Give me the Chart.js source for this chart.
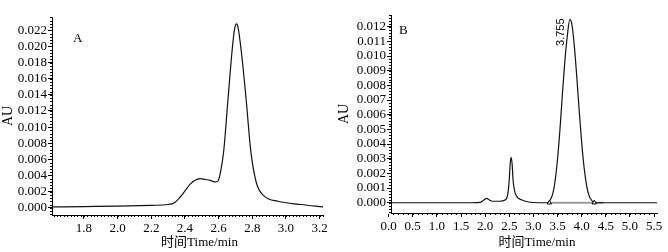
<!DOCTYPE html>
<html><head><meta charset="utf-8">
<script src="https://cdn.jsdelivr.net/npm/chart.js@4/dist/chart.umd.min.js"></script>
<style>
body{margin:0;background:#fff;width:668px;height:252px;overflow:hidden;position:relative}
canvas{position:absolute;top:0}
#cA{left:0}#cB{left:334px}
</style></head>
<body>
<canvas id="cA" width="334" height="252"></canvas>
<canvas id="cB" width="334" height="252"></canvas>
<script>
// ---- Panel A data ----
const timeA=[1.61,1.80,2.00,2.20,2.30,2.335,2.37,2.40,2.43,2.46,2.49,2.52,2.55,2.575,2.595,2.61,2.63,2.655,2.68,2.695,2.706,2.715,2.734,2.764,2.79,2.824,2.873,2.953,3.09,3.22];
const auA=[0.0001,0.00015,0.0002,0.0003,0.0004,0.0006,0.0013,0.0021,0.0029,0.0034,0.0036,0.0035,0.0034,0.0032,0.0033,0.0043,0.0070,0.0133,0.0195,0.0222,0.0228,0.0224,0.0195,0.0133,0.0072,0.0031,0.0014,0.0008,0.0004,0.0001];
const xTicksA=[1.8,2.0,2.2,2.4,2.6,2.8,3.0,3.2];
const yTicksA=[0,0.002,0.004,0.006,0.008,0.010,0.012,0.014,0.016,0.018,0.020,0.022];
const xRangeA=[1.61,3.22];
const yRangeA=[-0.0009,0.02365];

// ---- Panel B data ----
const timeB=[0.05,1.60,1.90,1.98,2.03,2.08,2.15,2.30,2.42,2.47,2.50,2.52,2.54,2.56,2.58,2.61,2.66,2.75,2.90,3.10,3.30,3.35,3.40,3.45,3.50,3.55,3.60,3.65,3.70,3.755,3.80,3.85,3.90,3.95,4.00,4.05,4.10,4.15,4.20,4.26,4.50,5.56];
const auB=[0,0,0.00003,0.0002,0.0003,0.0002,0.0001,0.0001,0.0002,0.0006,0.0016,0.0027,0.0031,0.0026,0.0015,0.0008,0.0004,0.0002,0.00005,0,0,0.0002,0.0006,0.0015,0.0030,0.0050,0.0074,0.0096,0.0113,0.0125,0.0121,0.0106,0.0085,0.0062,0.0041,0.0024,0.0012,0.0005,0.0002,0,0,0];
const xTicksB=[0,0.5,1.0,1.5,2.0,2.5,3.0,3.5,4.0,4.5,5.0,5.5];
const yTicksB=[0,0.001,0.002,0.003,0.004,0.005,0.006,0.007,0.008,0.009,0.010,0.011,0.012];
const xRangeB=[0.05,5.56];
const yRangeB=[-0.0007,0.0128];
const peakTimeB=3.755, peakAuB=0.0125, peakLabelB='3.755';
const integMarksB=[3.33,4.26];
const baselineB=[3.33,4.45];

const xTitle='时间Time/min';
const yTitle='AU';

const SERIF="'Liberation Serif','Noto Sans CJK SC',serif";

const decor={
  id:'decor',
  afterDraw(chart,args,o){
    const ctx=chart.ctx, xs=chart.scales.x, ys=chart.scales.y, ca=chart.chartArea;
    ctx.save();
    ctx.strokeStyle='#000';ctx.lineWidth=1;ctx.beginPath();
    for(let i=Math.ceil(xs.min/o.xMinor-1e-6);i<=Math.floor(xs.max/o.xMinor+1e-6);i++){
      const p=Math.round(xs.getPixelForValue(i*o.xMinor))+0.5;
      ctx.moveTo(p,ca.bottom);ctx.lineTo(p,ca.bottom+2);
    }
    for(let i=Math.ceil(ys.min/o.yMinor-1e-6);i<=Math.floor(ys.max/o.yMinor+1e-6);i++){
      const p=Math.round(ys.getPixelForValue(i*o.yMinor))+0.5;
      ctx.moveTo(ca.left-2,p);ctx.lineTo(ca.left,p);
    }
    ctx.stroke();
    ctx.fillStyle='#000';
    ctx.font='13px '+SERIF;ctx.textAlign='left';ctx.textBaseline='middle';
    ctx.fillText(o.panel,ca.left+o.panelDx,ca.top+o.panelDy);
    // x axis title
    ctx.textAlign='center';ctx.textBaseline='middle';
    ctx.fillText(o.xTitle,(ca.left+ca.right)/2+o.xTitleDx,o.xTitleY);
    if(o.peak){
      const px=xs.getPixelForValue(o.peak.t), py=ys.getPixelForValue(o.peak.v);
      ctx.translate(px-3,py-1);ctx.rotate(-Math.PI/2);
      ctx.font="11px 'Liberation Sans',sans-serif";ctx.textAlign='right';ctx.textBaseline='bottom';
      ctx.fillText(o.peak.label,0,0);
    }
    ctx.restore();
  }
};

function makeChart(id,time,au,xr,yr,xt,yt,extra,opts){
  const datasets=[...extra,{
    data:time.map((t,i)=>({x:t,y:au[i]})),
    borderColor:'#111',borderWidth:1.2,pointRadius:0,showLine:true,
    cubicInterpolationMode:'monotone',order:1
  }];
  return new Chart(document.getElementById(id),{
    type:'scatter',
    data:{datasets},
    plugins:[decor],
    options:{
      responsive:false,animation:false,
      layout:{padding:{left:0,top:opts.top,right:opts.right,bottom:0}},
      plugins:{legend:{display:false},tooltip:{enabled:false},decor:opts.decor},
      scales:{
        x:{type:'linear',min:xr[0],max:xr[1],
          afterBuildTicks:s=>{s.ticks=xt.map(v=>({value:v}));},
          afterFit:s=>{s.height=opts.xH;},
          grid:{drawOnChartArea:false,drawTicks:true,tickLength:4,tickColor:'#000'},
          border:{color:'#000',width:1},
          ticks:{color:'#000',padding:2,maxRotation:0,autoSkip:false,font:{family:SERIF,size:13},callback:v=>v.toFixed(1)},
          title:{display:false}
        },
        y:{type:'linear',min:yr[0],max:yr[1],
          afterBuildTicks:s=>{s.ticks=yt.map(v=>({value:v}));},
          afterFit:s=>{s.width=opts.yW;},
          grid:{drawOnChartArea:false,drawTicks:true,tickLength:4,tickColor:'#000'},
          border:{color:'#000',width:1},
          ticks:{color:'#000',padding:1,autoSkip:false,font:{family:SERIF,size:13},callback:v=>v.toFixed(3)},
          title:{display:true,text:yTitle,color:'#000',font:{family:SERIF,size:14},padding:{top:opts.auPad,bottom:0}}
        }
      }
    }
  });
}

makeChart('cA',timeA,auA,xRangeA,yRangeA,xTicksA,yTicksA,[],
  {top:17,right:11,xH:37,yW:52,auPad:0,decor:{xMinor:0.02,yMinor:0.0004,panel:'A',panelDx:21,panelDy:22,xTitle:xTitle,xTitleDx:12,xTitleY:243}});

makeChart('cB',timeB,auB,xRangeB,yRangeB,xTicksB,yTicksB,[
  {data:baselineB.map(t=>({x:t,y:0})),borderColor:'#9a9a9a',borderWidth:2,pointRadius:0,showLine:true,order:2},
  {data:integMarksB.map(t=>({x:t,y:0})),pointStyle:'triangle',pointRadius:2.5,backgroundColor:'#fff',borderColor:'#000',borderWidth:1,showLine:false,order:0}
],{top:15,right:11,xH:39,yW:57,auPad:2,decor:{xMinor:0.1,yMinor:0.0002,panel:'B',panelDx:8,panelDy:16,xTitle:xTitle,xTitleDx:13,xTitleY:243,peak:{t:peakTimeB,v:peakAuB,label:peakLabelB}}});
</script>
</body></html>
